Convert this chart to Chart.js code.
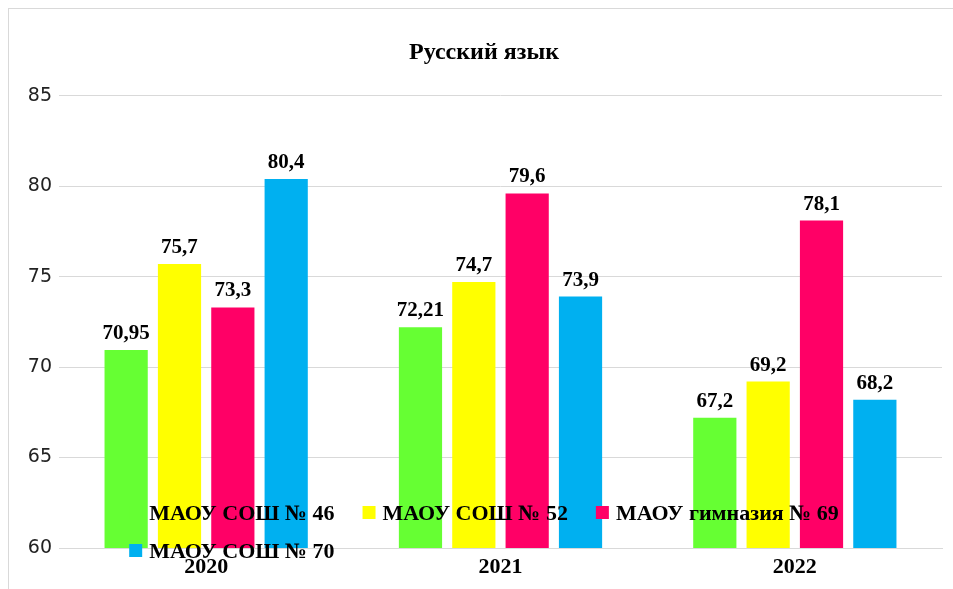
<!DOCTYPE html>
<html>
<head>
<meta charset="utf-8">
<script src="https://cdn.jsdelivr.net/npm/chart.js@4"></script>
<style>
    html, body { margin: 0; padding: 0; background: #fff; overflow: hidden; }
    #frame { position: absolute; left: 8px; top: 8px; width: 980px; height: 620px; border-left: 1px solid #d9d9d9; border-top: 1px solid #d9d9d9; }
    #chartBox { position: absolute; left: 0; top: 0; width: 968px; height: 589px; }
</style>
</head>
<body>
<div id="frame"></div>
<div id="chartBox"><canvas id="rusChart" width="968" height="589"></canvas></div>
<script>
const years = ['2020', '2021', '2022'];
const school46 = [70.95, 72.21, 67.2];
const school52 = [75.7, 74.7, 69.2];
const gym69 = [73.3, 79.6, 78.1];
const school70 = [80.4, 73.9, 68.2];
const seriesNames = ['МАОУ СОШ № 46', 'МАОУ СОШ № 52', 'МАОУ гимназия № 69', 'МАОУ СОШ № 70'];
const seriesColors = ['#66ff33', '#ffff00', '#ff0066', '#00b0f0'];
const yTicks = [60, 65, 70, 75, 80, 85];

const serif = '"Liberation Serif", "Times New Roman", serif';

function formatValue(v) {
    return String(v).replace('.', ',');
}

// value labels above each bar
const barLabels = {
    id: 'barLabels',
    afterDatasetsDraw(chart) {
        const ctx = chart.ctx;
        ctx.save();
        ctx.font = 'bold 21px ' + serif;
        ctx.fillStyle = '#000';
        ctx.textAlign = 'center';
        ctx.textBaseline = 'alphabetic';
        chart.data.datasets.forEach((ds, i) => {
            chart.getDatasetMeta(i).data.forEach((bar, j) => {
                ctx.fillText(formatValue(ds.data[j]), bar.x, bar.y - 11);
            });
        });
        ctx.restore();
    }
};

// legend drawn over the bottom of the plot, like the original
const overlayLegend = {
    id: 'overlayLegend',
    afterDraw(chart) {
        const ctx = chart.ctx;
        const area = chart.chartArea;
        const box = 13, boxGap = 7, itemGap = 28, rowStep = 38;
        ctx.save();
        ctx.font = 'bold 22px ' + serif;
        const items = chart.data.datasets.map(ds => ({
            text: ds.label,
            color: ds.backgroundColor,
            w: box + boxGap + ctx.measureText(ds.label).width
        }));
        const rows = [[]];
        let rowW = 0;
        items.forEach(it => {
            const add = (rows[rows.length - 1].length ? itemGap : 0) + it.w;
            if (rows[rows.length - 1].length && rowW + add > area.right - area.left) {
                rows.push([it]);
                rowW = it.w;
            } else {
                rows[rows.length - 1].push(it);
                rowW += add;
            }
        });
        const firstW = rows[0].reduce((s, it, k) => s + it.w + (k ? itemGap : 0), 0);
        const startX = chart.width / 2 - firstW / 2;
        let baseY = 520;
        ctx.textBaseline = 'alphabetic';
        ctx.textAlign = 'left';
        rows.forEach(row => {
            let x = startX;
            row.forEach(it => {
                ctx.fillStyle = it.color;
                ctx.fillRect(x, baseY - 14, box, box);
                ctx.fillStyle = '#000';
                ctx.fillText(it.text, x + box + boxGap, baseY);
                x += it.w + itemGap;
            });
            baseY += rowStep;
        });
        ctx.restore();
    }
};

const datasets = [school46, school52, gym69, school70].map((values, i) => ({
    label: seriesNames[i],
    data: values,
    backgroundColor: seriesColors[i],
    borderWidth: 0,
    categoryPercentage: 0.725,
    barPercentage: 0.81
}));

const ctx = document.getElementById('rusChart').getContext('2d');
new Chart(ctx, {
    type: 'bar',
    data: { labels: years, datasets: datasets },
    options: {
        responsive: false,
        animation: false,
        layout: { padding: 0 },
        plugins: {
            legend: { display: false },
            tooltip: { enabled: false },
            title: {
                display: true,
                text: 'Русский язык',
                color: '#000',
                font: { family: serif, size: 24, weight: 'bold' },
                padding: { top: 38, bottom: 29 }
            }
        },
        scales: {
            x: {
                grid: { display: false, drawTicks: false },
                border: { color: '#d9d9d9', width: 1 },
                ticks: {
                    color: '#000',
                    font: { family: serif, size: 22, weight: 'bold' },
                    padding: 6
                },
                afterFit(scale) { scale.height = 41; }
            },
            y: {
                min: 60,
                max: 85,
                afterBuildTicks(scale) { scale.ticks = yTicks.map(v => ({ value: v })); },
                grid: { color: '#d9d9d9', lineWidth: 1, drawTicks: false },
                border: { display: false },
                ticks: {
                    color: '#222',
                    font: { family: '"DejaVu Sans", sans-serif', size: 19 },
                    padding: 7
                },
                afterFit(scale) { scale.width = 59; }
            },
            // empty right-hand spacer so the title stays centred on the whole canvas
            spacer: {
                type: 'linear',
                position: 'right',
                display: true,
                grid: { display: false, drawTicks: false },
                border: { display: false },
                ticks: { display: false },
                afterFit(scale) { scale.width = 26; }
            }
        }
    },
    plugins: [barLabels, overlayLegend]
});
</script>
</body>
</html>
